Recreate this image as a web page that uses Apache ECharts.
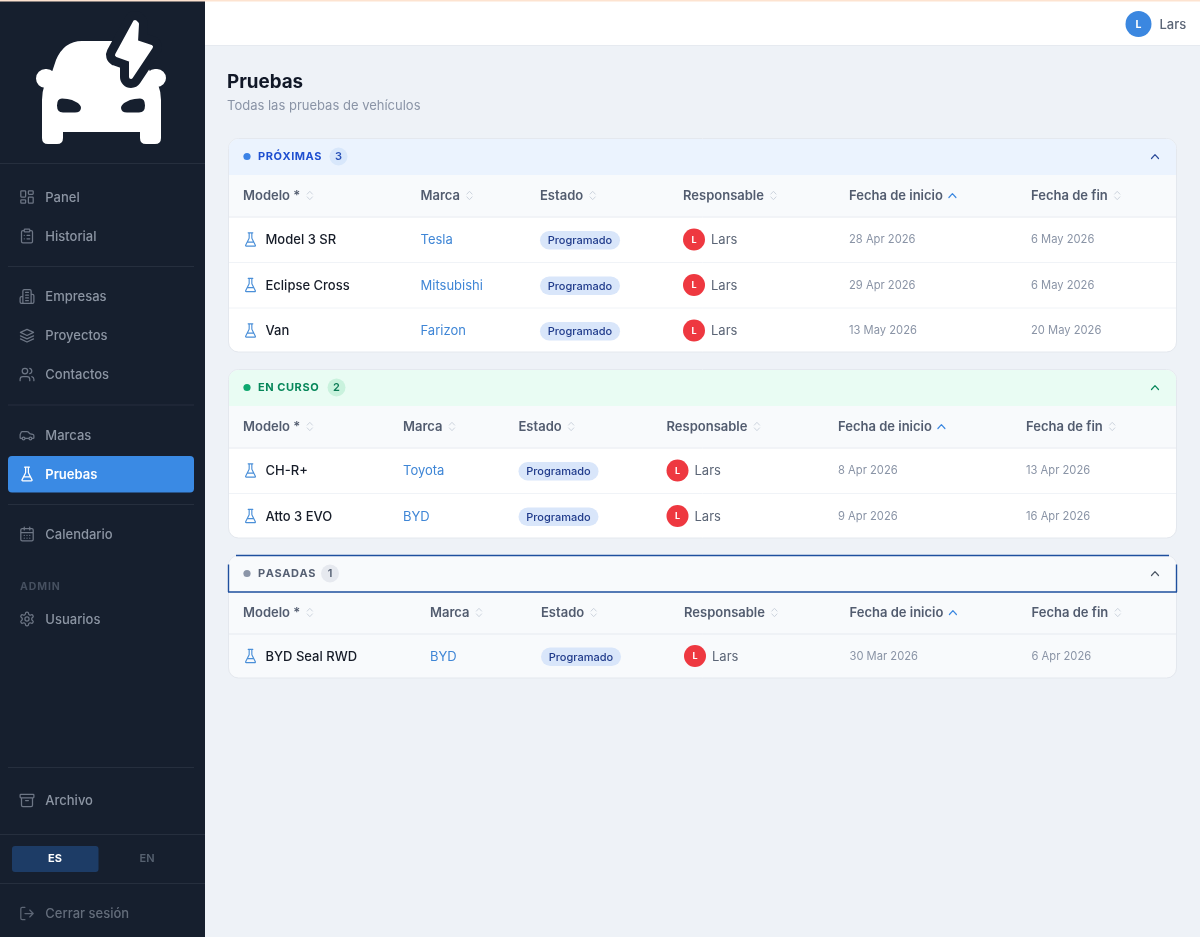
<!DOCTYPE html>
<html>
<head>
<meta charset="utf-8">
<title>Pruebas</title>
<script src="https://cdn.jsdelivr.net/npm/echarts@6/dist/echarts.min.js"></script>
<style>
  html, body { margin: 0; padding: 0; background: #eef2f7; }
  #main { width: 1200px; height: 937px; }
</style>
</head>
<body>
<div id="main"></div>
<script>
// textos y datos
var pageTitle = 'Pruebas';
var pageSubtitle = 'Todas las pruebas de vehículos';
var userName = 'Lars';
var navLabels = ['Panel', 'Historial', 'Empresas', 'Proyectos', 'Contactos', 'Marcas', 'Pruebas', 'Calendario', 'Usuarios', 'Archivo', 'Cerrar sesión'];
var navIcons = ['grid', 'clip', 'build', 'layers', 'users', 'car', 'flask', 'cal', 'gear', 'archive', 'logout'];
var columnNames = ['Modelo *', 'Marca', 'Estado', 'Responsable', 'Fecha de inicio', 'Fecha de fin'];
var sectionNames = ['PRÓXIMAS', 'EN CURSO', 'PASADAS'];
var sectionCounts = [3, 2, 1];
var rowsProximas = [
  ['Model 3 SR', 'Tesla', 'Programado', 'Lars', '28 Apr 2026', '6 May 2026'],
  ['Eclipse Cross', 'Mitsubishi', 'Programado', 'Lars', '29 Apr 2026', '6 May 2026'],
  ['Van', 'Farizon', 'Programado', 'Lars', '13 May 2026', '20 May 2026']
];
var rowsEnCurso = [
  ['CH-R+', 'Toyota', 'Programado', 'Lars', '8 Apr 2026', '13 Apr 2026'],
  ['Atto 3 EVO', 'BYD', 'Programado', 'Lars', '9 Apr 2026', '16 Apr 2026']
];
var rowsPasadas = [
  ['BYD Seal RWD', 'BYD', 'Programado', 'Lars', '30 Mar 2026', '6 Apr 2026']
];

// posiciones
var navY = [197, 236, 296.5, 335.5, 374.5, 435, 474, 534, 619, 800.5, 913.5];
var sideLinesShort = [266, 404.5, 504, 767];
var sideLinesFull = [163, 834, 883];
var cards = [
  { top: 138, bottom: 352.5, headBg: '#ebf3fe', dot: '#3b82e6', title: '#1f4fd0', badge: '#d8e7fb', badgeText: '#2a52b8', chevron: '#2b4a9a',
    cols: [243, 420.5, 540, 683, 849, 1031], rowY: [239.5, 285, 330.5], sepY: [262, 307.5], badgeX: 338.5, rowBg: '#ffffff', rows: rowsProximas },
  { top: 369, bottom: 538.5, headBg: '#e9fcf3', dot: '#0ea86f', title: '#07875a', badge: '#c9f2dd', badgeText: '#0b7a55', chevron: '#07875a',
    cols: [243, 403, 518.5, 666.5, 838, 1026], rowY: [470.5, 516], sepY: [493], badgeX: 336.5, rowBg: '#ffffff', rows: rowsEnCurso },
  { top: 555, bottom: 678.5, headBg: '#f8fafc', dot: '#8b95a8', title: '#566073', badge: '#e6e9ef', badgeText: '#566073', chevron: '#4b5563',
    cols: [243, 430, 541, 684, 849.5, 1031.5], rowY: [656], sepY: [], badgeX: 330, rowBg: '#f8fafc', rows: rowsPasadas, focus: true }
];

var FONT = 'Inter, "Noto Sans", sans-serif';

function circ(cx, cy, r) {
  return 'M' + (cx - r) + ' ' + cy + 'a' + r + ' ' + r + ' 0 1 0 ' + (2 * r) + ' 0a' + r + ' ' + r + ' 0 1 0 ' + (-2 * r) + ' 0z';
}
function rrect(x, y, w, h, r) {
  return 'M' + (x + r) + ' ' + y + 'h' + (w - 2 * r) + 'a' + r + ' ' + r + ' 0 0 1 ' + r + ' ' + r + 'v' + (h - 2 * r) +
    'a' + r + ' ' + r + ' 0 0 1 ' + (-r) + ' ' + r + 'h' + (-(w - 2 * r)) + 'a' + r + ' ' + r + ' 0 0 1 ' + (-r) + ' ' + (-r) +
    'v' + (-(h - 2 * r)) + 'a' + r + ' ' + r + ' 0 0 1 ' + r + ' ' + (-r) + 'z';
}

var icons = {
  grid: rrect(3, 3, 7, 9, 1) + rrect(14, 3, 7, 5, 1) + rrect(14, 12, 7, 9, 1) + rrect(3, 16, 7, 5, 1),
  clip: rrect(8, 2, 8, 4, 1) + 'M16 4h2a2 2 0 0 1 2 2v14a2 2 0 0 1-2 2H6a2 2 0 0 1-2-2V6a2 2 0 0 1 2-2h2M12 11h4M12 16h4M8 11h.01M8 16h.01',
  build: 'M6 22V4a2 2 0 0 1 2-2h8a2 2 0 0 1 2 2v18ZM6 12H4a2 2 0 0 0-2 2v6a2 2 0 0 0 2 2h2M18 9h2a2 2 0 0 1 2 2v9a2 2 0 0 1-2 2h-2M10 6h4M10 10h4M10 14h4M10 18h4',
  layers: 'M12 3 2.5 7.5 12 12l9.5-4.5zM2.5 12.5 12 17l9.5-4.5M2.5 17 12 21.5l9.5-4.5',
  users: 'M16 21v-2a4 4 0 0 0-4-4H6a4 4 0 0 0-4 4v2M16 3.13a4 4 0 0 1 0 7.75M22 21v-2a4 4 0 0 0-3-3.87' + circ(9, 7, 4),
  car: 'M19 17h2c.6 0 1-.4 1-1v-3c0-.9-.7-1.7-1.5-1.9C18.7 10.6 16 10 16 10s-1.3-1.4-2.2-2.3c-.5-.4-1.1-.7-1.8-.7H5c-.6 0-1.1.4-1.4.9l-1.4 2.9A3.7 3.7 0 0 0 2 12v4c0 .6.4 1 1 1h2M9 17h6' + circ(7, 17, 2) + circ(17, 17, 2),
  flask: 'M10 2v7.527a2 2 0 0 1-.211.896L4.72 20.55a1 1 0 0 0 .9 1.45h12.76a1 1 0 0 0 .9-1.45l-5.069-10.127A2 2 0 0 1 14 9.527V2M8.5 2h7M7 16h10',
  cal: rrect(3, 4, 18, 18, 2) + 'M16 2v4M8 2v4M3 10h18M8 14h.01M12 14h.01M16 14h.01M8 18h.01M12 18h.01M16 18h.01',
  gear: 'M12.22 2h-.44a2 2 0 0 0-2 2v.18a2 2 0 0 1-1 1.73l-.43.25a2 2 0 0 1-2 0l-.15-.08a2 2 0 0 0-2.73.73l-.22.38a2 2 0 0 0 .73 2.73l.15.1a2 2 0 0 1 1 1.72v.51a2 2 0 0 1-1 1.74l-.15.09a2 2 0 0 0-.73 2.73l.22.38a2 2 0 0 0 2.73.73l.15-.08a2 2 0 0 1 2 0l.43.25a2 2 0 0 1 1 1.73V20a2 2 0 0 0 2 2h.44a2 2 0 0 0 2-2v-.18a2 2 0 0 1 1-1.73l.43-.25a2 2 0 0 1 2 0l.15.08a2 2 0 0 0 2.73-.73l.22-.39a2 2 0 0 0-.73-2.73l-.15-.08a2 2 0 0 1-1-1.74v-.5a2 2 0 0 1 1-1.74l.15-.09a2 2 0 0 0 .73-2.73l-.22-.38a2 2 0 0 0-2.73-.73l-.15.08a2 2 0 0 1-2 0l-.43-.25a2 2 0 0 1-1-1.73V4a2 2 0 0 0-2-2z' + circ(12, 12, 3),
  archive: rrect(2, 3, 20, 5, 1) + 'M4 8v11a2 2 0 0 0 2 2h12a2 2 0 0 0 2-2V8M10 12h4',
  logout: 'M9 21H5a2 2 0 0 1-2-2V5a2 2 0 0 1 2-2h4M16 17l5-5-5-5M21 12H9'
};

var logoCar = 'M82 41L122 41Q138 41 146 60L150 72Q161 84 161 100L161 138Q161 144 155 144L146 144Q140 144 140 138L140 132L63 132L63 138Q63 144 57 144L48 144Q42 144 42 138L42 100Q42 84 52 72L56 60Q64 41 82 41Z' +
  rrect(36, 69, 20, 19, 9.5) + rrect(146, 69, 20, 18, 9);
var logoLights = 'M62 98.5Q68 98.5 72 100L77 102.5Q81 105 81 108Q80.5 112.5 75 112.5L63 112.5Q57 112.5 57 105.5Q57 98.5 62 98.5Z' +
  'M140 98.5Q134 98.5 130 100L125 102.5Q121 105 121 108Q121.5 112.5 127 112.5L139 112.5Q145 112.5 145 105.5Q145 98.5 140 98.5Z';
var logoBolt = 'M135 22L117 55L131 60L131 77L151 47L136 42L137 24Z';

var measureCtx = document.createElement('canvas').getContext('2d');
function textWidth(str, font) {
  measureCtx.font = font;
  return measureCtx.measureText(str).width;
}

function buildScene() {
  var out = [];
  function rect(x, y, w, h, fill, r, stroke, lw) {
    out.push({ type: 'rect', shape: { x: x, y: y, width: w, height: h, r: r || 0 },
      style: { fill: fill, stroke: stroke || null, lineWidth: lw || 0 } });
  }
  function line(x1, y1, x2, y2, color, lw) {
    out.push({ type: 'line', shape: { x1: x1, y1: y1, x2: x2, y2: y2 }, style: { stroke: color, lineWidth: lw || 1 } });
  }
  function dot(cx, cy, r, fill) {
    out.push({ type: 'circle', shape: { cx: cx, cy: cy, r: r }, style: { fill: fill } });
  }
  function text(str, x, y, font, fill, align, spacing) {
    if (spacing) {
      // espaciado de letras a mano
      var cx = x;
      for (var i = 0; i < str.length; i++) {
        text(str[i], cx, y, font, fill, 'left');
        cx += textWidth(str[i], font) + spacing;
      }
      return;
    }
    out.push({ type: 'text', style: { text: str, x: x, y: y, font: font, fill: fill,
      align: align || 'left', verticalAlign: 'middle', textAlign: align || 'left', textVerticalAlign: 'middle' } });
  }
  function path(d, x, y, scale, style) {
    out.push({ type: 'path', x: x, y: y, scaleX: scale, scaleY: scale, shape: { pathData: d }, style: style });
  }
  function icon(name, cx, cy, size, color, lw) {
    var s = size / 24;
    path(icons[name], cx - size / 2, cy - size / 2, s, { fill: 'none', stroke: color, lineWidth: lw / s, lineCap: 'round', lineJoin: 'round' });
  }
  function chevronUp(cx, cy, color) {
    path('M' + (cx - 3.5) + ' ' + (cy + 2) + 'L' + cx + ' ' + (cy - 1.8) + 'L' + (cx + 3.5) + ' ' + (cy + 2), 0, 0, 1,
      { fill: 'none', stroke: color, lineWidth: 1.2, lineCap: 'round', lineJoin: 'round' });
  }
  function sortIcon(cx, cy) {
    path('M' + (cx - 2.6) + ' ' + (cy - 1.4) + 'L' + cx + ' ' + (cy - 4.2) + 'L' + (cx + 2.6) + ' ' + (cy - 1.4) +
      'M' + (cx - 2.6) + ' ' + (cy + 1.4) + 'L' + cx + ' ' + (cy + 4.2) + 'L' + (cx + 2.6) + ' ' + (cy + 1.4), 0, 0, 1,
      { fill: 'none', stroke: '#cdd4de', lineWidth: 1, lineCap: 'round', lineJoin: 'round' });
  }

  // barra superior
  rect(205, 0, 995, 45.5, '#ffffff');
  rect(205, 45, 995, 1, '#e6eaf0');
  dot(1138.5, 24, 13, '#3b87e0');
  text('L', 1138.5, 24.5, '700 10.5px ' + FONT, '#ffffff', 'center');
  text(userName, 1159.5, 25, '500 13px ' + FONT, '#5b6576');

  // barra lateral
  rect(0, 0, 205, 937, '#161f2e');
  rect(0, 0, 1200, 1.5, '#fde3d0');
  sideLinesFull.forEach(function (y) { line(0, y + 0.5, 205, y + 0.5, '#262f3e'); });
  sideLinesShort.forEach(function (y) { line(8, y + 0.5, 194, y + 0.5, '#262f3e'); });

  path(logoCar, 0, 0, 1, { fill: '#ffffff' });
  path(logoLights, 0, 0, 1, { fill: '#161f2e' });
  path(logoBolt, 0, 0, 1, { fill: '#161f2e', stroke: '#161f2e', lineWidth: 22, lineJoin: 'round' });
  path(logoBolt, 0, 0, 1, { fill: '#ffffff', stroke: '#ffffff', lineWidth: 4, lineJoin: 'round' });

  rect(8, 456, 186, 36.5, '#3a8ae4', 4);
  navLabels.forEach(function (label, i) {
    var active = label === pageTitle;
    var last = i === navLabels.length - 1;
    icon(navIcons[i], 27, navY[i], 16.5, active ? '#ffffff' : (last ? '#5d6675' : '#6d7685'), 1.25);
    text(label, 45.3, navY[i] + 1, (active ? '600' : '500') + ' 13px ' + FONT, active ? '#ffffff' : (last ? '#646d7b' : '#8c95a3'));
  });
  text('ADMIN', 20, 586.5, '700 10.5px ' + FONT, '#465060', 'left', 0.9);
  rect(12, 846, 86.5, 26, '#1d3c66', 3);
  text('ES', 55, 859, '700 11px ' + FONT, '#ffffff', 'center');
  text('EN', 147, 859, '600 11px ' + FONT, '#566170', 'center');

  // cabecera de la pagina
  text(pageTitle, 227, 82.5, '700 18.8px ' + FONT, '#111827');
  text(pageSubtitle, 227, 106.5, '400 13px ' + FONT, '#8a94a6');

  // tarjetas
  cards.forEach(function (card, c) {
    var left = 228, width = 949;
    var headH = 37, colH = 41.5;
    var head = card.top + headH;
    var colBottom = head + colH;
    // fondo
    out.push({ type: 'rect', shape: { x: left + 0.5, y: card.top + 0.5, width: width - 1, height: card.bottom - card.top - 1, r: 10 },
      style: { fill: card.rowBg, stroke: '#e4e8ee', lineWidth: 1 } });
    // franja del titulo
    out.push({ type: 'rect', shape: { x: left + 1, y: card.top + 1, width: width - 2, height: headH - 1, r: [9, 9, 0, 0] }, style: { fill: card.headBg } });
    // fila de columnas
    rect(left + 1, head, width - 2, colH, '#f8fafc');
    line(left + 1, colBottom + 0.5, left + width - 1, colBottom + 0.5, '#e6eaf0');
    if (card.focus) {
      // el borde de foco queda recortado en las esquinas de la tarjeta
      var fc = '#1e4f9e', fy = card.top + 0.5, fb = head;
      line(left + 8, fy, left + width - 8, fy, fc, 1.4);
      line(left + 0.5, fy + 9, left + 0.5, fb, fc, 1.4);
      line(left + width - 0.5, fy + 9, left + width - 0.5, fb, fc, 1.4);
      line(left, fb, left + width, fb, fc, 1.6);
    }

    var midY = card.top + 18.5;
    dot(247, midY, 3.6, card.dot);
    var titleFont = '700 11px ' + FONT;
    text(sectionNames[c], 258, midY + 0.3, titleFont, card.title, 'left', 0.55);
    out.push({ type: 'rect', shape: { x: card.badgeX - 9, y: midY - 9, width: 18, height: 18, r: 9 }, style: { fill: card.badge } });
    text(String(sectionCounts[c]), card.badgeX, midY + 0.3, '600 11px ' + FONT, card.badgeText, 'center');
    chevronUp(1155, midY, card.chevron);

    // nombres de columna
    var colY = head + 20.5;
    var colFont = '600 13px ' + FONT;
    columnNames.forEach(function (name, k) {
      text(name, card.cols[k], colY + 1, colFont, '#525c6f');
      var after = card.cols[k] + textWidth(name, colFont) + 9.5;
      if (k === 4) { chevronUp(after, colY, '#3b87e0'); } else { sortIcon(after, colY); }
    });

    // filas
    card.sepY.forEach(function (y) { line(left + 1, y + 0.5, left + width - 1, y + 0.5, '#f0f3f7'); });
    card.rows.forEach(function (row, r) {
      var y = card.rowY[r], cols = card.cols;
      icon('flask', cols[0] + 7.5, y, 16, '#4a8fd8', 1.15);
      text(row[0], cols[0] + 22.5, y + 1, '500 13px ' + FONT, '#161c28');
      text(row[1], cols[1], y + 1, '400 13px ' + FONT, '#3f86d6');
      out.push({ type: 'rect', shape: { x: cols[2], y: y - 8.5, width: 80, height: 18.5, r: 9.2 }, style: { fill: '#d9e6fa' } });
      text(row[2], cols[2] + 40, y + 1.3, '500 11px ' + FONT, '#1f3a8a', 'center');
      dot(cols[3] + 11, y, 11, '#ee3840');
      text('L', cols[3] + 11, y + 0.5, '700 9px ' + FONT, '#ffffff', 'center');
      text(row[3], cols[3] + 28, y + 1, '400 13px ' + FONT, '#5b6576');
      text(row[4], cols[4], y + 0.3, '400 11.2px ' + FONT, '#8a94a6');
      text(row[5], cols[5], y + 0.3, '400 11.2px ' + FONT, '#8a94a6');
    });
  });
  return out;
}

var chart = echarts.init(document.getElementById('main'));
var scene = buildScene();
chart.setOption({
  backgroundColor: '#eef2f7',
  animation: false,
  series: [{
    type: 'custom',
    coordinateSystem: 'none',
    silent: true,
    data: [0],
    renderItem: function () {
      return { type: 'group', children: scene };
    }
  }]
});
</script>
</body>
</html>
